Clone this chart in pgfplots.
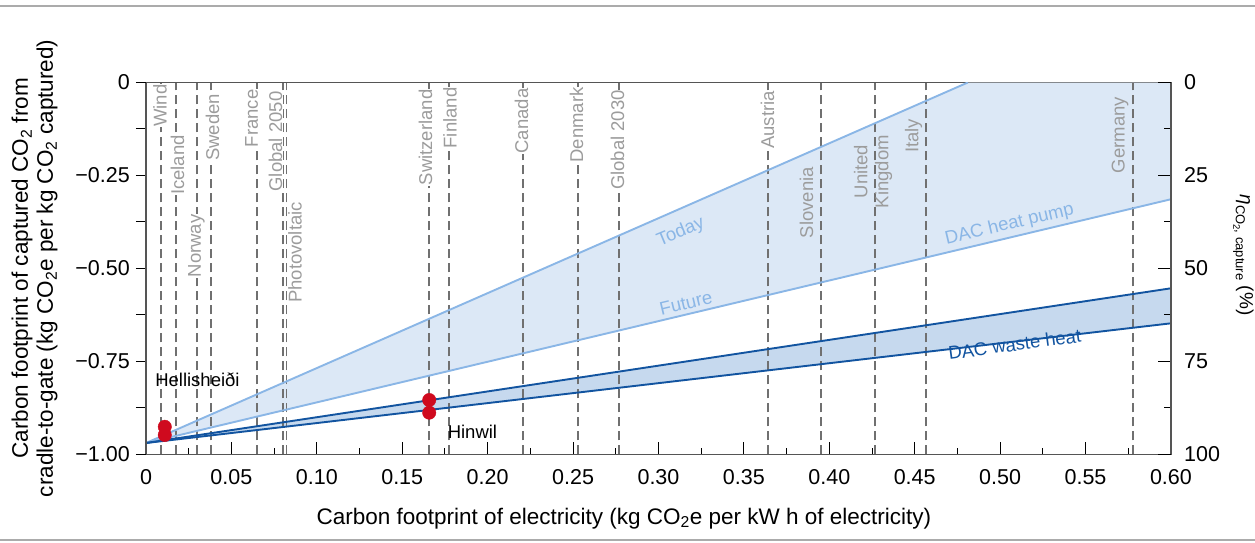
\documentclass[border=0pt]{standalone}
\usepackage{amsmath}
\usepackage{fontspec}
\setmainfont{Liberation Sans}
\usepackage{pgfplots}
\pgfplotsset{compat=1.18}

\definecolor{lightline}{HTML}{8AB6E6}
\definecolor{lightfill}{HTML}{DCE8F6}
\definecolor{darkline}{HTML}{1254A0}
\definecolor{darkfill}{HTML}{C6D9EE}
\definecolor{dashgray}{HTML}{707070}
\definecolor{labelgray}{HTML}{9C9C9C}
\definecolor{ptred}{HTML}{CF0A1E}
\definecolor{spine}{HTML}{555555}
\definecolor{framegray}{HTML}{ABABAB}

\newcommand{\fa}{\fontsize{21.5}{25}\selectfont}
\newcommand{\fb}{\fontsize{18.5}{21}\selectfont}
\newcommand{\fc}{\fontsize{22.5}{25}\selectfont}

\pgfplotsset{base/.style={scale only axis, width=1025pt, height=371.8pt,
  xmin=0, xmax=0.6, ymin=-1, ymax=0}}

\tikzset{country/.style={rotate=90, font=\fb, text=labelgray, inner sep=0.6pt, anchor=center},
  wf/.style={fill=white}}

\begin{document}
\begin{tikzpicture}
\useasboundingbox (-146pt,-87.7pt) rectangle (1109pt,454.3pt);
\draw[framegray, line width=1.5pt] (-146pt,448.3pt) -- (1109pt,448.3pt);
\draw[framegray, line width=1.5pt] (-146pt,-85.7pt) -- (1109pt,-85.7pt);

% main axis with data and x axis
\begin{axis}[base,
  axis line style={spine, line width=1.2pt},
  xtick={0,0.05,0.1,0.15,0.2,0.25,0.3,0.35,0.4,0.45,0.5,0.55,0.6},
  xticklabels={0,0.05,0.10,0.15,0.20,0.25,0.30,0.35,0.40,0.45,0.50,0.55,0.60},
  minor xtick={0.025,0.075,0.125,0.175,0.225,0.275,0.325,0.375,0.425,0.475,0.525,0.575},
  ytick=\empty,
  xtick pos=left,
  tick align=inside,
  major tick length=12pt, minor tick length=6pt,
  tick style={black, line width=1pt},
  xticklabel style={font=\fa, inner sep=0pt, anchor=north, yshift=-15pt},
  xlabel={Carbon footprint of electricity (kg CO\textsubscript{2}e per kW h of electricity)},
  xlabel style={font=\fc, at={(axis description cs:0.4663,-0.1875)}, anchor=base, inner sep=0pt},
]
% shaded regions
\addplot[draw=none, fill=lightfill] coordinates {(0,-0.9696) (0.4811,0) (0.6,0) (0.6,-0.314)} -- cycle;
\addplot[draw=none, fill=darkfill] coordinates {(0,-0.9696) (0.6,-0.5535) (0.6,-0.6477)} -- cycle;
% country / scenario lines
\pgfplotsinvokeforeach{0.0086,0.0176,0.0297,0.0379,0.0648,0.0800,0.0822,0.1658,0.1775,0.2205,0.2531,0.2769,0.3639,0.3951,0.4267,0.4566,0.5776}{
  \addplot[dashgray, line width=1.8pt, dash pattern=on 9pt off 5pt] coordinates {(#1,-1) (#1,0)};
}
% DAC lines
\addplot[lightline, line width=1.9pt] coordinates {(0,-0.9696) (0.4811,0)};
\addplot[lightline, line width=1.9pt] coordinates {(0,-0.9696) (0.6,-0.314)};
\addplot[darkline, line width=1.9pt] coordinates {(0,-0.9696) (0.6,-0.5535)};
\addplot[darkline, line width=1.9pt] coordinates {(0,-0.9696) (0.6,-0.6477)};

% labels
\node[country, wf] at (axis cs:0.0082,-0.0619) {Wind};
\node[country, wf] at (axis cs:0.01844,-0.2219) {Iceland};
\node[country, wf] at (axis cs:0.02956,-0.4397) {Norway};
\node[country, wf] at (axis cs:0.03893,-0.1210) {Sweden};
\node[country, wf] at (axis cs:0.06187,-0.0968) {France};
\node[country, wf] at (axis cs:0.07581,-0.1587) {Global 2050};
\node[country] at (axis cs:0.08722,-0.4572) {Photovoltaic};
\node[country, wf] at (axis cs:0.1636,-0.1479) {Switzerland};
\node[country, wf] at (axis cs:0.1780,-0.0955) {Finland};
\node[country, wf] at (axis cs:0.2198,-0.1036) {Canada};
\node[country, wf] at (axis cs:0.2520,-0.1143) {Denmark};
\node[country, wf] at (axis cs:0.2760,-0.1547) {Global 2030};
\node[country, wf] at (axis cs:0.3638,-0.1009) {Austria};
\node[country] at (axis cs:0.3866,-0.3228) {Slovenia};
\node[country, align=center] at (axis cs:0.4256,-0.2394) {United\\Kingdom};
\node[country] at (axis cs:0.4493,-0.1439) {Italy};
\node[country] at (axis cs:0.5702,-0.1412) {Germany};

\node[font=\fb, text=lightline, rotate=22.5, inner sep=0pt] at (axis cs:0.3131,-0.4034) {Today};
\node[font=\fb, text=lightline, rotate=13.4, inner sep=0pt] at (axis cs:0.3161,-0.5931) {Future};
\node[font=\fb, text=lightline, rotate=13.4, inner sep=0pt] at (axis cs:0.5055,-0.3825) {DAC heat pump};
\node[font=\fb, text=darkline, rotate=7.6, inner sep=0pt] at (axis cs:0.5085,-0.7044) {DAC waste heat};
\node[font=\fb, inner sep=0pt] at (axis cs:0.0301,-0.8002) {Hellisheiði};
\node[font=\fb, inner sep=0pt] at (axis cs:0.1911,-0.9387) {Hinwil};

% plants
\addplot[only marks, mark=*, mark size=6.7pt, mark options={draw=ptred, fill=ptred}]
  coordinates {(0.011,-0.926) (0.011,-0.948) (0.1658,-0.854) (0.1658,-0.888)};
\end{axis}

% left y axis
\begin{axis}[base, hide x axis, axis y line*=left,
  axis line style={spine, line width=1.2pt},
  ytick={-1,-0.75,-0.5,-0.25,0},
  yticklabels={−1.00,−0.75,−0.50,−0.25,0},
  minor ytick={-0.875,-0.625,-0.375,-0.125},
  tick align=outside,
  major tick length=10pt, minor tick length=10pt,
  tick style={black, line width=1pt},
  yticklabel style={font=\fa, inner sep=0pt, anchor=east, xshift=-6pt},
  ylabel={Carbon footprint of captured CO\textsubscript{2} from\\cradle-to-gate (kg CO\textsubscript{2}e per kg CO\textsubscript{2} captured)},
  ylabel style={font=\fc, align=center, at={(axis description cs:-0.086,0.5)}, anchor=south, inner sep=0pt},
]
\end{axis}

% right y axis
\begin{axis}[scale only axis, width=1025pt, height=371.8pt,
  xmin=0, xmax=0.6, ymin=0, ymax=100, y dir=reverse,
  hide x axis, axis y line*=right,
  axis line style={spine, line width=1.2pt},
  ytick={0,25,50,75,100},
  yticklabels={0,25,50,75,100},
  minor ytick={12.5,37.5,62.5,87.5},
  tick align=inside,
  major tick length=13pt, minor tick length=7pt,
  tick style={black, line width=1pt},
  yticklabel style={font=\fa, inner sep=0pt, anchor=west, xshift=13pt},
  ylabel={{\fontsize{19}{22}\selectfont\textit{η}}{\fontsize{13}{15}\selectfont\raisebox{-4pt}{CO{\fontsize{9.5}{11}\selectfont\raisebox{-2.5pt}{2}}, capture}}\ (\%)},
  ylabel style={font=\fontsize{19}{22}\selectfont, at={(axis description cs:1.0605,0.536)}, anchor=south, rotate=180, inner sep=0pt},
]
\end{axis}
\end{tikzpicture}
\end{document}
